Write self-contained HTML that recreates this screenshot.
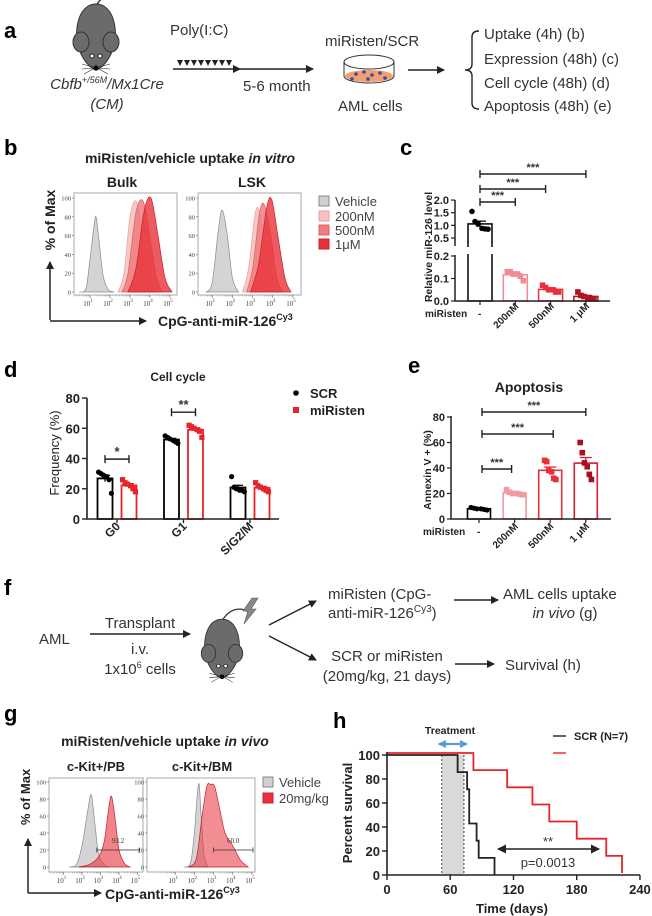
<!DOCTYPE html>
<html><head><meta charset="utf-8"><style>
html,body{margin:0;padding:0;background:#fff;}
svg{display:block;font-family:"Liberation Sans",Arial,sans-serif;}
.b{font-weight:bold;}
</style></head><body>
<svg id="fig" xmlns="http://www.w3.org/2000/svg" width="652" height="916" viewBox="0 0 652 916">
<defs>
<g id="mouse">
<path d="M0,-30 C8,-44 20,-46 30,-40" fill="none" stroke="#333" stroke-width="1.4"/>
<path d="M0,-32 C18,-32 22,-5 18,10 C14,24 6,32 0,34 C-6,32 -14,24 -18,10 C-22,-5 -18,-32 0,-32Z" fill="#6b6b6b" stroke="#333" stroke-width="1"/>
<ellipse cx="-15" cy="6" rx="8" ry="10" fill="#6b6b6b" stroke="#333" stroke-width="1"/>
<ellipse cx="15" cy="6" rx="8" ry="10" fill="#6b6b6b" stroke="#333" stroke-width="1"/>
<circle cx="-4" cy="20" r="2" fill="#fff" stroke="#000" stroke-width="0.8"/>
<circle cx="4" cy="20" r="2" fill="#fff" stroke="#000" stroke-width="0.8"/>
<circle cx="0" cy="32" r="2.6" fill="#000"/>
<path d="M-3,31 L-14,28 M-3,32 L-14,33 M-3,33 L-12,38 M3,31 L14,28 M3,32 L14,33 M3,33 L12,38" stroke="#222" stroke-width="0.6"/>
</g>
<marker id="ah" markerWidth="8" markerHeight="8" refX="7" refY="4" orient="auto" markerUnits="userSpaceOnUse"><path d="M0,0 L8,4 L0,8Z" fill="#222"/></marker>
<marker id="ahb" markerWidth="8" markerHeight="8" refX="7" refY="4" orient="auto-start-reverse" markerUnits="userSpaceOnUse"><path d="M0,0 L8,4 L0,8Z" fill="#5b9bd5"/></marker>
<marker id="ahk" markerWidth="9" markerHeight="9" refX="8" refY="4.5" orient="auto-start-reverse" markerUnits="userSpaceOnUse"><path d="M0,0 L9,4.5 L0,9Z" fill="#222"/></marker>
</defs>

<!-- Panel a -->
<g>
<text x="4" y="38" class="b" font-size="22">a</text>
<use href="#mouse" transform="translate(96,36)"/>
<text x="107" y="89" font-size="15" font-style="italic" text-anchor="middle" fill="#333">Cbfb<tspan font-size="9" dy="-6">+/56M</tspan><tspan dy="6">/Mx1Cre</tspan></text>
<text x="107" y="109" font-size="15" font-style="italic" text-anchor="middle" fill="#333">(CM)</text>
<text x="170" y="35" font-size="15" fill="#333">Poly(I:C)</text>
<g fill="#222">
<path d="M177,60 l6,0 l-3,6z M184,60 l6,0 l-3,6z M191,60 l6,0 l-3,6z M198,60 l6,0 l-3,6z M205,60 l6,0 l-3,6z M212,60 l6,0 l-3,6z M219,60 l6,0 l-3,6z M226,60 l6,0 l-3,6z"/>
</g>
<line x1="173" y1="69" x2="240" y2="69" stroke="#222" stroke-width="1.5" marker-end="url(#ah)"/>
<line x1="240" y1="69" x2="313" y2="69" stroke="#222" stroke-width="1.5" marker-end="url(#ah)"/>
<text x="243" y="91" font-size="15" fill="#333">5-6 month</text>
<text x="325" y="46" font-size="15" fill="#333">miRisten/SCR</text>
<g>
<path d="M344,62 L344,76 A25,7 0 0 0 394,76 L394,62" fill="#fff" stroke="#333" stroke-width="1"/>
<ellipse cx="369" cy="76" rx="24" ry="6" fill="#f0a070"/>
<ellipse cx="369" cy="62" rx="25" ry="7" fill="none" stroke="#333" stroke-width="1"/>
<circle cx="356" cy="74" r="1.8" fill="#3a4aa0"/><circle cx="364" cy="72" r="1.8" fill="#3a4aa0"/><circle cx="372" cy="75" r="1.8" fill="#3a4aa0"/><circle cx="380" cy="73" r="1.8" fill="#3a4aa0"/><circle cx="368" cy="79" r="1.8" fill="#3a4aa0"/><circle cx="385" cy="78" r="1.8" fill="#3a4aa0"/><circle cx="352" cy="79" r="1.8" fill="#3a4aa0"/>
</g>
<text x="338" y="111" font-size="15" fill="#333">AML cells</text>
<line x1="408" y1="70" x2="444" y2="70" stroke="#222" stroke-width="1.5" marker-end="url(#ah)"/>
<path d="M479,31 Q472,31 472,37 L472,64 Q472,70 465,70 Q472,70 472,76 L472,103 Q472,109 479,109" fill="none" stroke="#222" stroke-width="1.4"/>
<g font-size="15" fill="#333">
<text x="484" y="39">Uptake (4h) (b)</text>
<text x="484" y="64">Expression (48h) (c)</text>
<text x="484" y="88">Cell cycle (48h) (d)</text>
<text x="484" y="111">Apoptosis  (48h) (e)</text>
</g>
</g>

<!-- Panel b static -->
<g>
<text x="4" y="155" class="b" font-size="22">b</text>
<text x="190" y="163" class="b" font-size="14" text-anchor="middle" fill="#222">miRisten/vehicle uptake <tspan font-style="italic">in vitro</tspan></text>
<text x="122" y="187" class="b" font-size="14" text-anchor="middle" fill="#222">Bulk</text>
<text x="252" y="187" class="b" font-size="14" text-anchor="middle" fill="#222">LSK</text>
<g id="bHists"></g>
<text transform="translate(55,220) rotate(-90)" class="b" font-size="14" text-anchor="middle" fill="#222">% of Max</text>
<path d="M50,320 L50,262" stroke="#222" stroke-width="1.5" marker-end="url(#ah)"/>
<path d="M50,321 L146,321" stroke="#222" stroke-width="1.5" marker-end="url(#ah)"/>
<text x="158" y="326" class="b" font-size="14" fill="#222">CpG-anti-miR-126<tspan font-size="9" dy="-6">Cy3</tspan></text>
<g font-size="13" fill="#444">
<rect x="319" y="196" width="10" height="10" fill="#d0d0d0" stroke="#888"/><text x="335" y="206">Vehicle</text>
<rect x="319" y="211" width="10" height="10" fill="#f6c2c2" stroke="#e8a0a0"/><text x="335" y="221">200nM</text>
<rect x="319" y="225" width="10" height="10" fill="#ee7b7e" stroke="#e06060"/><text x="335" y="235">500nM</text>
<rect x="319" y="239" width="10" height="10" fill="#e8323a" stroke="#c82030"/><text x="335" y="249">1μM</text>
</g>
</g>

<!-- Panel c static -->
<g>
<text x="400" y="155" class="b" font-size="22">c</text>
<text transform="translate(432,247) rotate(-90)" class="b" font-size="10.5" text-anchor="middle" fill="#222">Relative miR-126 level</text>
<text x="425" y="317" class="b" font-size="10" fill="#222">miRisten</text>
<g id="cChart"></g>
</g>

<!-- Panel d static -->
<g>
<text x="4" y="377" class="b" font-size="22">d</text>
<text x="178" y="381" class="b" font-size="12" text-anchor="middle" fill="#222">Cell cycle</text>
<text transform="translate(59,453) rotate(-90)" font-size="13" text-anchor="middle" fill="#222">Frequency (%)</text>
<circle cx="296" cy="393" r="2.8" fill="#000"/>
<text x="310" y="398" class="b" font-size="13" fill="#222">SCR</text>
<rect x="293" y="407" width="6" height="6" fill="#e8232a"/>
<text x="310" y="415" class="b" font-size="13" fill="#222">miRisten</text>
<g id="dChart"></g>
</g>

<!-- Panel e static -->
<g>
<text x="408" y="373" class="b" font-size="22">e</text>
<text x="529" y="392" class="b" font-size="14" text-anchor="middle" fill="#222">Apoptosis</text>
<text transform="translate(431,470) rotate(-90)" class="b" font-size="10.5" text-anchor="middle" fill="#222">Annexin V + (%)</text>
<text x="423" y="535" class="b" font-size="10" fill="#222">miRisten</text>
<g id="eChart"></g>
</g>

<!-- Panel f -->
<g font-size="15" fill="#333">
<text x="4" y="595" class="b" font-size="22" fill="#000">f</text>
<text x="39" y="644">AML</text>
<line x1="90" y1="634" x2="190" y2="634" stroke="#222" stroke-width="1.5" marker-end="url(#ah)"/>
<text x="140" y="628" text-anchor="middle">Transplant</text>
<text x="140" y="654" text-anchor="middle">i.v.</text>
<text x="140" y="674" text-anchor="middle">1x10<tspan font-size="9" dy="-6">6</tspan><tspan dy="6"> cells</tspan></text>
<use href="#mouse" transform="translate(222,648) scale(0.9)"/>
<path d="M252,598 L258,598 L251,609 L256,609 L244,624 L248,611 L243,611Z" fill="#888" stroke="#555" stroke-width="0.6"/>
<line x1="269" y1="625" x2="316" y2="601" stroke="#222" stroke-width="1.4" marker-end="url(#ah)"/>
<line x1="269" y1="636" x2="316" y2="660" stroke="#222" stroke-width="1.4" marker-end="url(#ah)"/>
<text x="328" y="599">miRisten (CpG-</text>
<text x="328" y="618">anti-miR-126<tspan font-size="10" dy="-6">Cy3</tspan><tspan dy="6">)</tspan></text>
<line x1="454" y1="600" x2="498" y2="600" stroke="#222" stroke-width="1.5" marker-end="url(#ah)"/>
<text x="503" y="599">AML cells uptake</text>
<text x="565" y="618" text-anchor="middle"><tspan font-style="italic">in vivo</tspan> (g)</text>
<text x="387" y="661" text-anchor="middle">SCR or miRisten</text>
<text x="387" y="681" text-anchor="middle">(20mg/kg, 21 days)</text>
<line x1="455" y1="664" x2="494" y2="664" stroke="#222" stroke-width="1.5" marker-end="url(#ah)"/>
<text x="505" y="670">Survival (h)</text>
</g>

<!-- Panel g static -->
<g>
<text x="4" y="721" class="b" font-size="22">g</text>
<text x="165" y="746" class="b" font-size="14" text-anchor="middle" fill="#222">miRisten/vehicle uptake <tspan font-style="italic">in vivo</tspan></text>
<text x="96" y="771" class="b" font-size="13" text-anchor="middle" fill="#222">c-Kit+/PB</text>
<text x="202" y="771" class="b" font-size="13" text-anchor="middle" fill="#222">c-Kit+/BM</text>
<g id="gHists"></g>
<text transform="translate(30,797) rotate(-90)" class="b" font-size="13" text-anchor="middle" fill="#222">% of Max</text>
<path d="M28,893 L28,839" stroke="#222" stroke-width="1.5" marker-end="url(#ah)"/>
<path d="M28,893 L101,893" stroke="#222" stroke-width="1.5" marker-end="url(#ah)"/>
<text x="105" y="899" class="b" font-size="14" fill="#222">CpG-anti-miR-126<tspan font-size="9" dy="-6">Cy3</tspan></text>
<g font-size="13" fill="#444">
<rect x="263" y="777" width="10" height="10" fill="#d0d0d0" stroke="#888"/><text x="279" y="787">Vehicle</text>
<rect x="263" y="793" width="10" height="10" fill="#e8323a" stroke="#c82030"/><text x="279" y="803">20mg/kg</text>
</g>
</g>

<!-- Panel h static -->
<g>
<text x="333" y="728" class="b" font-size="22">h</text>
<text x="450" y="734" class="b" font-size="10.5" text-anchor="middle" fill="#222">Treatment</text>
<line x1="553" y1="736" x2="566" y2="736" stroke="#222" stroke-width="1.4"/>
<text x="574" y="740" class="b" font-size="11" fill="#222">SCR (N=7)</text>
<line x1="553" y1="753" x2="566" y2="753" stroke="#e8232a" stroke-width="1.4"/>
<text transform="translate(352,813) rotate(-90)" class="b" font-size="13" text-anchor="middle" fill="#222">Percent survival</text>
<text x="512" y="913" class="b" font-size="13" text-anchor="middle" fill="#222">Time (days)</text>
<g id="hChart"></g>
</g>
</svg>

<script>
// ---------- DATA ----------
// b: histogram knots [log10 fluorescence, % of max]
const bBulkVehicle=[[0.5,0],[0.8,4],[1.0,35],[1.2,70],[1.3,80],[1.45,55],[1.65,18],[1.9,3],[2.2,0]];
const bBulk200=[[2.4,0],[2.7,20],[3.0,80],[3.3,97],[3.55,70],[3.8,25],[4.1,3],[4.3,0]];
const bBulk500=[[2.6,0],[2.9,20],[3.3,85],[3.65,97],[3.95,65],[4.3,18],[4.6,0]];
const bBulk1u=[[2.9,0],[3.3,25],[3.7,85],[4.05,100],[4.4,60],[4.75,15],[5.1,0]];
const bLskVehicle=[[0.7,0],[1.0,10],[1.3,65],[1.5,87],[1.75,60],[2.0,15],[2.3,0]];
const bLsk200=[[2.5,0],[2.8,25],[3.1,80],[3.3,88],[3.55,55],[3.8,10],[4.0,0]];
const bLsk500=[[2.7,0],[3.0,25],[3.35,85],[3.6,92],[3.9,60],[4.2,15],[4.5,0]];
const bLsk1u=[[2.9,0],[3.3,30],[3.7,90],[3.95,98],[4.25,60],[4.6,15],[4.9,0]];
const bTicks=[1,2,3,4,5];
const bYTicks=[0,20,40,60,80,100];
// c
const cCategories=['-','200nM','500nM','1 μM'];
const cValues=[[1.55,1.15,1.05,0.88,0.86,0.85],[0.13,0.13,0.12,0.12,0.11,0.09],[0.07,0.06,0.05,0.05,0.04,0.04],[0.04,0.025,0.02,0.015,0.012,0.01]];
const cUpperTicks=[0.5,1.0,1.5,2.0];
const cLowerTicks=[0.0,0.1,0.2];
const cSig=[[0,1,'***'],[0,2,'***'],[0,3,'***']];
// d
const dGroups=['G0','G1','S/G2/M'];
const dScr=[[31,30,29,28,26,17],[55,54,53,52,51,50],[28,21,20,19,19,18]];
const dMir=[[26,24,23,22,20,18],[62,61,60,59,58,54],[24,22,21,20,19,18]];
const dYTicks=[0,20,40,60,80];
const dSig=[[0,'*'],[1,'**']];
// e
const eCategories=['-','200nM','500nM','1 μM'];
const eValues=[[9,8.5,8,8,7.5,7],[23,21,20,20,19.5,19],[46,45,38,37,32,31],[60,52,44,41,35,31]];
const eYTicks=[0,20,40,60,80];
const eSig=[[0,1,'***'],[0,2,'***'],[0,3,'***']];
// g
const gPbVehicle=[[1.3,0],[1.7,3],[2.0,25],[2.3,65],[2.5,85],[2.7,50],[2.9,15],[3.2,3],[3.5,0]];
const gPbTreated=[[1.8,0],[2.4,3],[2.9,12],[3.2,30],[3.45,70],[3.6,83],[3.8,55],[4.0,20],[4.3,4],[4.6,0]];
const gBmVehicle=[[1.5,0],[1.8,5],[2.0,40],[2.15,85],[2.25,97],[2.35,60],[2.5,15],[2.7,0]];
const gBmTreated=[[1.7,0],[2.1,10],[2.4,60],[2.65,95],[2.85,97],[3.05,95],[3.3,70],[3.6,40],[4.0,25],[4.4,8],[4.8,0]];
const gGates=[[2.8,5.1,'93.2'],[3.0,5.1,'60.0']];
// h
const hScrTimes=[0,67,76,78,85,87,102];
const hScrSurv=[100,85.7,71.4,42.9,28.6,14.3,0];
const hMirTimes=[0,82,114,138,154,180,208,223];
const hMirSurv=[100,85.7,71.4,57.1,42.9,28.6,14.3,0];
const hXTicks=[0,60,120,180,240];
const hYTicks=[0,20,40,60,80,100];
const hTreatment=[52,73];

// ---------- HELPERS ----------
const NS='http://www.w3.org/2000/svg';
function mk(tag,a,p){const e=document.createElementNS(NS,tag);for(const k in a)e.setAttribute(k,a[k]);p.appendChild(e);return e;}
function mean(a){return a.reduce((s,v)=>s+v,0)/a.length;}
function sem(a){const m=mean(a);return Math.sqrt(a.reduce((s,v)=>s+(v-m)*(v-m),0)/(a.length-1))/Math.sqrt(a.length);}
function smoothPath(pts){let d='M'+pts[0][0]+','+pts[0][1];for(let i=0;i<pts.length-1;i++){const p0=pts[Math.max(0,i-1)],p1=pts[i],p2=pts[i+1],p3=pts[Math.min(pts.length-1,i+2)];const c1x=p1[0]+(p2[0]-p0[0])/6,c1y=p1[1]+(p2[1]-p0[1])/6,c2x=p2[0]-(p3[0]-p1[0])/6,c2y=p2[1]-(p3[1]-p1[1])/6;d+=' C'+c1x+','+c1y+' '+c2x+','+c2y+' '+p2[0]+','+p2[1];}return d;}
function histFrame(p,x0,x1,y0,y1,xs,ys,name){
  const fr=mk('rect',{x:x0,y:y0,width:x1-x0,height:y1-y0,fill:'none',stroke:'#aaa','stroke-width':1},p);
  
  
  bYTicks.forEach(t=>{const y=ys(t);mk('line',{x1:x0-2,x2:x0,y1:y,y2:y,stroke:'#666','stroke-width':0.6},p);
    const tx=mk('text',{x:x0-3,y:y+2.5,'font-size':6.5,'text-anchor':'end','font-family':'Liberation Serif,serif',fill:'#444'},p);tx.textContent=t;
    
    });
  bTicks.forEach(t=>{const x=xs(t);mk('line',{x1:x,x2:x,y1:y1,y2:y1+3,stroke:'#666','stroke-width':0.6},p);
    const tx=mk('text',{x:x-2,y:y1+11,'font-size':7,'text-anchor':'middle','font-family':'Liberation Serif,serif',fill:'#444'},p);
    tx.innerHTML='10<tspan font-size="5" dy="-4">'+t+'</tspan>';
    
    
    for(let k=2;k<10;k++){const xm=xs(t-1+Math.log10(k));if(xm>x0)mk('line',{x1:xm,x2:xm,y1:y1,y2:y1+1.5,stroke:'#888','stroke-width':0.4},p);}});
}
function drawHist(p,pts,xs,ys,fill,stroke,op,name){
  const sp=pts.map(q=>[xs(q[0]),ys(q[1])]);
  const e=mk('path',{d:smoothPath(sp)+' Z',fill:fill,'fill-opacity':op,stroke:stroke,'stroke-width':0.7},p);
  
  
}

// ---------- b ----------
(function(){
  const g=document.getElementById('bHists');
  const ys=v=>292-0.94*v;
  const xb=v=>70+20*v, xl=v=>192+20.2*v;
  histFrame(g,74,177,193,295,xb,ys,'bulk-histogram');
  histFrame(g,198,301,193,295,xl,ys,'lsk-histogram');
  drawHist(g,bBulkVehicle,xb,ys,'#cfcfcf','#8a8a8a',0.9,'bulk-vehicle-hist');
  drawHist(g,bBulk200,xb,ys,'#f6c2c2','#eaa0a0',0.9,'bulk-200nm-hist');
  drawHist(g,bBulk500,xb,ys,'#ee7b7e','#e06060',0.85,'bulk-500nm-hist');
  drawHist(g,bBulk1u,xb,ys,'#e8323a','#c81e2a',0.8,'bulk-1um-hist');
  drawHist(g,bLskVehicle,xl,ys,'#cfcfcf','#8a8a8a',0.9,'lsk-vehicle-hist');
  drawHist(g,bLsk200,xl,ys,'#f6c2c2','#eaa0a0',0.9,'lsk-200nm-hist');
  drawHist(g,bLsk500,xl,ys,'#ee7b7e','#e06060',0.85,'lsk-500nm-hist');
  drawHist(g,bLsk1u,xl,ys,'#e8323a','#c81e2a',0.8,'lsk-1um-hist');
})();

// ---------- dot/bar charts shared ----------
const jitter=[-8,-5,-2,2,5,8];
function sigBar(p,x1,x2,y,label,name,fs){
  const l=mk('path',{d:'M'+x1+','+(y-4)+' L'+x1+','+(y+4)+' M'+x1+','+y+' L'+x2+','+y+' M'+x2+','+(y-4)+' L'+x2+','+(y+4),stroke:'#222','stroke-width':1.4,fill:'none'},p);
  
  
  const t=mk('text',{x:(x1+x2)/2,y:y-3,'font-size':fs||11,'text-anchor':'middle',fill:'#333','font-weight':'bold'},p);t.textContent=label;
  
  
}

// ---------- c ----------
(function(){
  const g=document.getElementById('cChart');
  const yc=v=>v<=0.25?301-225*v:238-25.3*(v-0.5);
  const xc=i=>480+i*35.3;
  const cols=['#000','#f08a94','#e8303c','#b3121e'];
  const fills=['#000','#f08a94','#e8303c','#b3121e'];
  cValues.forEach((vals,i)=>{
    const m=mean(vals),se=sem(vals),x=xc(i);
    const bar=mk('rect',{x:x-12,y:yc(m),width:24,height:301-yc(m),fill:'#fff',stroke:cols[i],'stroke-width':1.5},g);
    
    
    const eb=mk('path',{d:'M'+x+','+yc(m-se)+' L'+x+','+yc(m+se)+' M'+(x-6)+','+yc(m+se)+' L'+(x+6)+','+yc(m+se),stroke:cols[i],'stroke-width':1.3,fill:'none'},g);
    
    
    vals.forEach((v,j)=>{
      let d;
      if(i===0){d=mk('circle',{cx:x+jitter[j],cy:yc(v),r:2.8,fill:fills[i]},g);}
      else{d=mk('rect',{x:x+jitter[j]-2.8,y:yc(v)-2.8,width:5.6,height:5.6,fill:fills[i]},g);}
      
      
    });
    const lb=mk('text',{transform:'translate('+(x+4)+',307) rotate(-45)','font-size':10,'font-weight':'bold','text-anchor':'end',fill:'#222'},g);
    lb.textContent=i===0?'':cCategories[i];
    
    
    mk('line',{x1:x,x2:x,y1:301,y2:305,stroke:'#222','stroke-width':1.2},g);
  });
  const dash=mk('text',{x:478,y:317,'font-size':10,'font-weight':'bold',fill:'#222'},g);dash.textContent='-';
  
  
  mk('rect',{x:460,y:247,width:40,height:7,fill:'#fff'},g);
  const ax=mk('path',{d:'M455,200 L455,246 M455,255 L455,301 L610,301',stroke:'#222','stroke-width':1.5,fill:'none'},g);
  
  
  cUpperTicks.concat(cLowerTicks).forEach(t=>{const y=yc(t);mk('line',{x1:451,x2:455,y1:y,y2:y,stroke:'#222','stroke-width':1.2},g);
    const tx=mk('text',{x:449,y:y+4,'font-size':11,'font-weight':'bold','text-anchor':'end',fill:'#222'},g);tx.textContent=t.toFixed(1);
    
    });
  const ly=[202,189,174];
  cSig.forEach((s,k)=>sigBar(g,xc(s[0]),xc(s[1])-(k===1?5:0),ly[k],s[2],'c-significance-'+k));
})();

// ---------- d ----------
(function(){
  const g=document.getElementById('dChart');
  const yd=v=>519-1.5125*v;
  const xg=i=>117+i*66.5;
  dScr.forEach((vals,i)=>{
    [[vals,-12,'#000',true],[dMir[i],12,'#e8232a',false]].forEach(([vs,off,col,isScr])=>{
      const x=xg(i)+off,m=mean(vs),se=sem(vs);
      const bar=mk('rect',{x:x-7.5,y:yd(m),width:15,height:519-yd(m),fill:'#fff',stroke:col,'stroke-width':1.8},g);
      
      
      const eb=mk('path',{d:'M'+x+','+yd(m-se)+' L'+x+','+yd(m+se)+' M'+(x-5)+','+yd(m+se)+' L'+(x+5)+','+yd(m+se),stroke:col,'stroke-width':1.3,fill:'none'},g);
      
      
      vs.forEach((v,j)=>{
        const jx=x+jitter[j]*0.8;let d;
        if(isScr)d=mk('circle',{cx:jx,cy:yd(v),r:2.6,fill:col},g);
        else d=mk('rect',{x:jx-2.6,y:yd(v)-2.6,width:5.2,height:5.2,fill:col},g);
        
        
      });
    });
    mk('line',{x1:xg(i),x2:xg(i),y1:519,y2:523,stroke:'#222','stroke-width':1.3},g);
    const lb=mk('text',{transform:'translate('+(xg(i)+4)+',527) rotate(-45)','font-size':12,'font-weight':'bold','text-anchor':'end',fill:'#222'},g);
    lb.textContent=dGroups[i];
    
    
  });
  const ax=mk('path',{d:'M87,398 L87,519 L279,519',stroke:'#222','stroke-width':1.6,fill:'none'},g);
  
  
  dYTicks.forEach(t=>{const y=yd(t);mk('line',{x1:82,x2:87,y1:y,y2:y,stroke:'#222','stroke-width':1.4},g);
    const tx=mk('text',{x:80,y:y+5,'font-size':13,'font-weight':'bold','text-anchor':'end',fill:'#222'},g);tx.textContent=t;
    
    });
  dSig.forEach(s=>{const i=s[0];const top=Math.max(...dScr[i],...dMir[i]);sigBar(g,xg(i)-12,xg(i)+12,yd(top)-13,s[1],'d-significance-'+dGroups[i],13);});
})();

// ---------- e ----------
(function(){
  const g=document.getElementById('eChart');
  const ye=v=>519-1.275*v;
  const xe=i=>479+i*35.6;
  const cols=['#000','#f29aa2','#e8303c','#d02030'];
  const dots=['#000','#f29aa2','#e8303c','#a8101c'];
  eValues.forEach((vals,i)=>{
    const m=mean(vals),se=sem(vals),x=xe(i);
    const bar=mk('rect',{x:x-11.5,y:ye(m),width:23,height:519-ye(m),fill:'#fff',stroke:cols[i],'stroke-width':1.6},g);
    
    
    const eb=mk('path',{d:'M'+x+','+ye(m-se)+' L'+x+','+ye(m+se)+' M'+(x-6)+','+ye(m+se)+' L'+(x+6)+','+ye(m+se),stroke:cols[i],'stroke-width':1.3,fill:'none'},g);
    
    
    vals.forEach((v,j)=>{
      let d;
      if(i===0)d=mk('circle',{cx:x+jitter[j],cy:ye(v),r:2.6,fill:dots[i]},g);
      else d=mk('rect',{x:x+jitter[j]*(i>1?0.7:1)-2.8,y:ye(v)-2.8,width:5.6,height:5.6,fill:dots[i]},g);
      
      
    });
    mk('line',{x1:x,x2:x,y1:519,y2:523,stroke:'#222','stroke-width':1.2},g);
    if(i>0){const lb=mk('text',{transform:'translate('+(x+4)+',527) rotate(-45)','font-size':10,'font-weight':'bold','text-anchor':'end',fill:'#222'},g);
      lb.textContent=eCategories[i];
      
      }
  });
  const dash=mk('text',{x:477,y:535,'font-size':10,'font-weight':'bold',fill:'#222'},g);dash.textContent='-';
  
  
  const ax=mk('path',{d:'M451,416 L451,519 L611,519',stroke:'#222','stroke-width':1.5,fill:'none'},g);
  
  
  eYTicks.forEach(t=>{const y=ye(t);mk('line',{x1:447,x2:451,y1:y,y2:y,stroke:'#222','stroke-width':1.2},g);
    const tx=mk('text',{x:445,y:y+4,'font-size':11,'font-weight':'bold','text-anchor':'end',fill:'#222'},g);tx.textContent=t;
    
    });
  const ly=[469,434,412];
  eSig.forEach((s,k)=>sigBar(g,xe(s[0])+3,xe(s[1])+(k===0?-3:k===1?3:0),ly[k],s[2],'e-significance-'+k));
})();

// ---------- g ----------
(function(){
  const g=document.getElementById('gHists');
  const ys=v=>867-0.85*v;
  const xp=v=>45+18.5*v, xm=v=>156+19.2*v;
  function frame(x0,x1,xs,name){
    const fr=mk('rect',{x:x0,y:778,width:x1-x0,height:94,fill:'none',stroke:'#aaa','stroke-width':1},g);
    
    
    bYTicks.forEach(t=>{const y=ys(t);mk('line',{x1:x0-2,x2:x0,y1:y,y2:y,stroke:'#666','stroke-width':0.6},g);
      const tx=mk('text',{x:x0-3,y:y+2.5,'font-size':6.5,'text-anchor':'end','font-family':'Liberation Serif,serif',fill:'#444'},g);tx.textContent=t;
      
      });
    bTicks.forEach(t=>{const x=xs(t);mk('line',{x1:x,x2:x,y1:872,y2:875,stroke:'#666','stroke-width':0.6},g);
      const tx=mk('text',{x:x-2,y:883,'font-size':7,'text-anchor':'middle','font-family':'Liberation Serif,serif',fill:'#444'},g);
      tx.innerHTML='10<tspan font-size="5" dy="-4">'+t+'</tspan>';
      
      
      for(let k=2;k<10;k++){const xx=xs(t-1+Math.log10(k));if(xx>x0)mk('line',{x1:xx,x2:xx,y1:872,y2:873.5,stroke:'#888','stroke-width':0.4},g);}});
  }
  frame(49,143,xp,'pb-histogram');
  frame(147,255,xm,'bm-histogram');
  drawHist(g,gPbVehicle,xp,ys,'#cfcfcf','#8a8a8a',0.9,'pb-vehicle-hist');
  drawHist(g,gPbTreated,xp,ys,'#e8323a','#c81e2a',0.6,'pb-treated-hist');
  drawHist(g,gBmVehicle,xm,ys,'#cfcfcf','#8a8a8a',0.9,'bm-vehicle-hist');
  drawHist(g,gBmTreated,xm,ys,'#e8323a','#c81e2a',0.55,'bm-treated-hist');
  [[gGates[0],xp,'pb'],[gGates[1],xm,'bm']].forEach(([gt,xs,nm])=>{
    const y=ys(20),a=xs(gt[0]),b=Math.min(xs(gt[1]),nm==='pb'?140:253);
    const l=mk('path',{d:'M'+a+','+(y-2.5)+' L'+a+','+(y+2.5)+' M'+a+','+y+' L'+b+','+y+' M'+b+','+(y-2.5)+' L'+b+','+(y+2.5),stroke:'#333','stroke-width':0.8,fill:'none'},g);
    
    
    const t=mk('text',{x:(a+b)/2,y:y-7,'font-size':7,'text-anchor':'middle','font-family':'Liberation Serif,serif',fill:'#333'},g);t.textContent=gt[2];
    
    
  });
})();

// ---------- h ----------
(function(){
  const g=document.getElementById('hChart');
  const xh=d=>387+1.054*d, yh=p=>875-1.2*p;
  const sh=mk('rect',{x:xh(hTreatment[0]),y:yh(100),width:xh(hTreatment[1])-xh(hTreatment[0]),height:yh(0)-yh(100),fill:'#d9d9d9'},g);
  
  
  hTreatment.forEach(d=>{const l=mk('line',{x1:xh(d),x2:xh(d),y1:yh(100),y2:yh(0),stroke:'#333','stroke-width':0.9,'stroke-dasharray':'2,2'},g);
    
    });
  const ta=mk('line',{x1:xh(hTreatment[0])-3,x2:xh(hTreatment[1])+3,y1:744,y2:744,stroke:'#5b9bd5','stroke-width':2.2,'marker-start':'url(#ahb)','marker-end':'url(#ahb)'},g);
  
  
  function km(times,surv,col,off,name){
    let d='M'+xh(times[0])+','+(yh(surv[0])-off);
    for(let i=1;i<times.length;i++){d+=' L'+xh(times[i])+','+(yh(surv[i-1])-off)+' L'+xh(times[i])+','+(yh(surv[i])-off);}
    const p=mk('path',{d:d,fill:'none',stroke:col,'stroke-width':1.8},g);
    
    
  }
  km(hMirTimes,hMirSurv,'#e8232a',2,'miristen-survival-curve');
  km(hScrTimes,hScrSurv,'#222',0,'scr-survival-curve');
  const ax=mk('path',{d:'M387,752 L387,875 L640,875',stroke:'#222','stroke-width':1.6,fill:'none'},g);
  
  
  hYTicks.forEach(t=>{const y=yh(t);mk('line',{x1:382,x2:387,y1:y,y2:y,stroke:'#222','stroke-width':1.4},g);
    const tx=mk('text',{x:380,y:y+5,'font-size':13,'font-weight':'bold','text-anchor':'end',fill:'#222'},g);tx.textContent=t;
    
    });
  hXTicks.forEach(t=>{const x=xh(t);mk('line',{x1:x,x2:x,y1:875,y2:880,stroke:'#222','stroke-width':1.4},g);
    const tx=mk('text',{x:x,y:894,'font-size':13,'font-weight':'bold','text-anchor':'middle',fill:'#222'},g);tx.textContent=t;
    
    });
  const pa=mk('line',{x1:498,x2:599,y1:849,y2:849,stroke:'#222','stroke-width':1.6,'marker-start':'url(#ahk)','marker-end':'url(#ahk)'},g);
  
  
  const st=mk('text',{x:548,y:846,'font-size':13,'text-anchor':'middle',fill:'#333'},g);st.textContent='**';
  
  
  const pv=mk('text',{x:548,y:867,'font-size':13,'text-anchor':'middle',fill:'#333'},g);pv.textContent='p=0.0013';
  
  
})();
</script>
</body></html>
